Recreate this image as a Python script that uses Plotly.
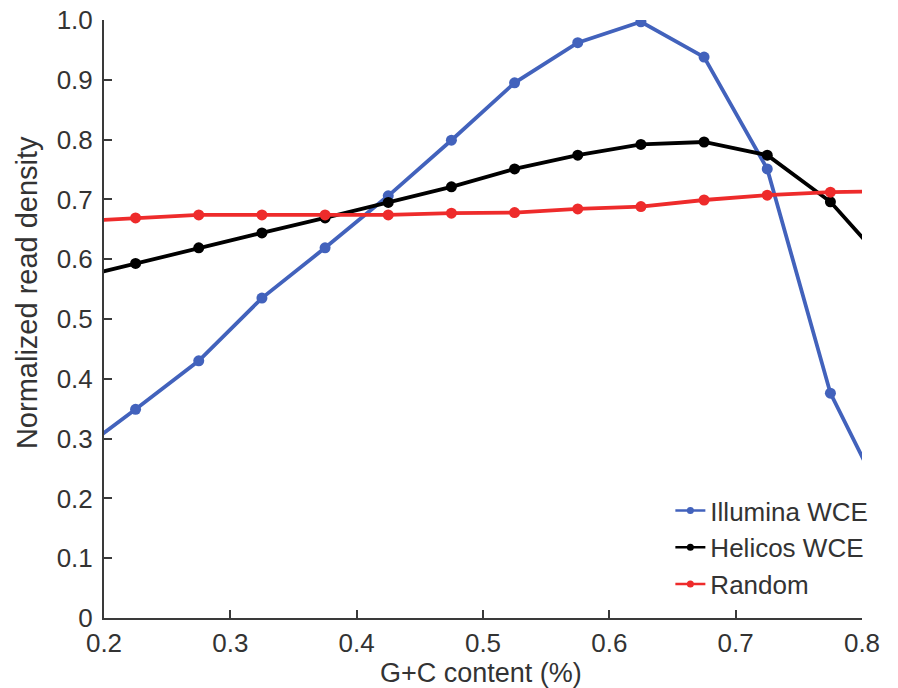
import plotly.graph_objects as go

# GC-content bins (bin centres); outer bins fall just outside the visible axis range
gc_content = [0.175, 0.225, 0.275, 0.325, 0.375, 0.425, 0.475, 0.525,
              0.575, 0.625, 0.675, 0.725, 0.775, 0.825]

illumina_wce = [0.27, 0.349, 0.430, 0.535, 0.619, 0.706, 0.799, 0.895,
                0.962, 0.997, 0.938, 0.751, 0.376, 0.164]
helicos_wce = [0.567, 0.593, 0.619, 0.644, 0.669, 0.695, 0.721, 0.751,
               0.774, 0.792, 0.796, 0.774, 0.696, 0.578]
random_reads = [0.663, 0.669, 0.674, 0.674, 0.674, 0.674, 0.677, 0.678,
                0.684, 0.688, 0.699, 0.707, 0.712, 0.714]

x_ticks = [0.2, 0.3, 0.4, 0.5, 0.6, 0.7, 0.8]
x_tick_labels = ["0.2", "0.3", "0.4", "0.5", "0.6", "0.7", "0.8"]
y_ticks = [0, 0.1, 0.2, 0.3, 0.4, 0.5, 0.6, 0.7, 0.8, 0.9, 1.0]
y_tick_labels = ["0", "0.1", "0.2", "0.3", "0.4", "0.5", "0.6", "0.7", "0.8", "0.9", "1.0"]

x_title = "G+C content (%)"
y_title = "Normalized read density"

series = [
    ("Illumina WCE", illumina_wce, "#4262BC"),
    ("Helicos WCE", helicos_wce, "#000000"),
    ("Random", random_reads, "#EE2B2B"),
]

FONT = "Liberation Sans, Arial, Helvetica, sans-serif"
TEXT = "#333333"

fig = go.Figure()
for name, values, color in series:
    fig.add_trace(go.Scatter(
        x=gc_content, y=values, name=name, mode="lines+markers",
        line=dict(color=color, width=3.8),
        marker=dict(color=color, size=11),
        showlegend=False, cliponaxis=True,
    ))
# lighter legend keys
for name, values, color in series:
    fig.add_trace(go.Scatter(
        x=[None], y=[None], name=name, mode="lines+markers",
        line=dict(color=color, width=2.5),
        marker=dict(color=color, size=7),
        showlegend=True,
    ))

axis_common = dict(
    showgrid=False, zeroline=False, showline=True,
    linecolor="#3a3a3a", linewidth=2,
    ticks="inside", ticklen=8, tickwidth=1.5, tickcolor="#3a3a3a",
    tickfont=dict(family=FONT, size=26, color=TEXT),
    mirror=False, automargin=False,
)

fig.update_layout(
    width=898, height=688,
    margin=dict(l=104, r=36, t=20, b=70, autoexpand=False),
    paper_bgcolor="white", plot_bgcolor="white",
    font=dict(family=FONT, color=TEXT),
    xaxis=dict(
        range=[0.2, 0.8], tickvals=x_ticks, ticktext=x_tick_labels,
        ticklabelstandoff=1,
        **axis_common,
    ),
    yaxis=dict(
        range=[0, 1.0], tickvals=y_ticks, ticktext=y_tick_labels,
        ticklabelstandoff=4,
        **axis_common,
    ),
    legend=dict(
        x=1.015, y=0.219, xanchor="right", yanchor="top",
        bgcolor="rgba(0,0,0,0)",
        font=dict(family=FONT, size=26, color=TEXT),
        itemwidth=30, tracegroupgap=0,
    ),
    showlegend=True,
)

# axis titles placed as paper-anchored annotations
fig.add_annotation(
    text=x_title, xref="paper", yref="paper", x=0.497, y=-0.092,
    xanchor="center", yanchor="middle", showarrow=False,
    font=dict(family=FONT, size=27, color=TEXT),
)
fig.add_annotation(
    text=y_title, xref="paper", yref="paper", x=-0.1016, y=0.545,
    xanchor="center", yanchor="middle", textangle=-90, showarrow=False,
    font=dict(family=FONT, size=29, color=TEXT),
)

fig.write_html("out.html")
